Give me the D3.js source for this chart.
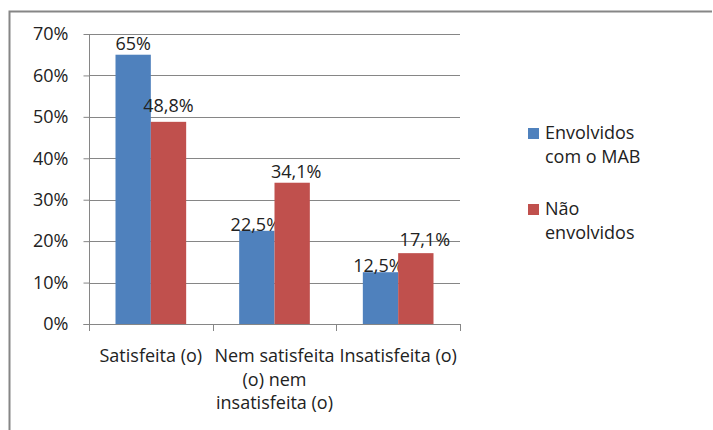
<!DOCTYPE html>
<html><head><meta charset="utf-8">
<script src="https://cdn.jsdelivr.net/npm/d3@7"></script>
<style>body{margin:0;background:#fff}svg{display:block}text{font-family:"Open Sans",sans-serif;fill:#222}</style>
</head><body><svg id="c" width="713" height="430"></svg>
<script>
const categories = [["Satisfeita (o)"], ["Nem satisfeita", "(o) nem", "insatisfeita (o)"], ["Insatisfeita (o)"]];
const seriesNames = [["Envolvidos", "com o MAB"], ["Não", "envolvidos"]];
const envolvidos = [65, 22.5, 12.5];
const naoEnvolvidos = [48.8, 34.1, 17.1];
const valueLabels = [["65%", "22,5%", "12,5%"], ["48,8%", "34,1%", "17,1%"]];
const yTicks = [0, 10, 20, 30, 40, 50, 60, 70];
const colors = ["#4F81BD", "#C0504D"];
// layout tweaks for label placement (mimic original)
const labelDy = [[-5, 0, 0], [-10, -5, -7]];
const labelDx = [[0, -1, -2], [0, 4, 9]];

const svg = d3.select("#c");
const fs = 18;
svg.append("path").attr("d", "M9.5,431 V11.5 H712").attr("fill", "none").attr("stroke", "#868686").attr("stroke-width", 2);

const x0 = 89, x1 = 460, yTop = 34, yBot = 324;
const catW = (x1 - x0) / categories.length;
const barW = catW / 3.5;
const y = d3.scaleLinear().domain([0, 70]).range([yBot, yTop]);
const xb = d3.scaleBand().domain(d3.range(categories.length)).range([x0, x1]);

svg.append("g").selectAll("line").data(yTicks.slice(1)).join("line")
  .attr("x1", x0).attr("x2", x1).attr("y1", d => Math.round(y(d)) + 0.5).attr("y2", d => Math.round(y(d)) + 0.5)
  .attr("stroke", "#868686").attr("stroke-width", 1);

const yAxis = d3.axisLeft(y).tickValues(yTicks).tickSize(6).tickPadding(15).tickFormat(d => d + "%");
const gy = svg.append("g").attr("transform", `translate(${x0 + 0.5},0)`).call(yAxis);
gy.select(".domain").attr("stroke", "#868686").attr("d", `M-6,${yBot + 0.5}H0V${yTop}`);
gy.selectAll(".tick line").attr("stroke", "#868686");
gy.selectAll(".tick text").style("font-size", fs + "px").attr("fill", "#222").style("font-family", "Open Sans");

const cx = i => xb(i) + xb.bandwidth() / 2;
const series = [envolvidos, naoEnvolvidos];
series.forEach((vals, s) => {
  svg.append("g").selectAll("rect").data(vals).join("rect")
    .attr("x", (d, i) => cx(i) - barW + s * barW)
    .attr("width", barW)
    .attr("y", d => y(d)).attr("height", d => yBot - y(d))
    .attr("fill", colors[s]);
  svg.append("g").selectAll("text").data(vals).join("text")
    .attr("x", (d, i) => cx(i) - barW / 2 + s * barW + labelDx[s][i])
    .attr("y", (d, i) => y(d) + labelDy[s][i])
    .attr("text-anchor", "middle").style("font-size", fs + "px")
    .text((d, i) => valueLabels[s][i]);
});

svg.append("line").attr("x1", x0).attr("x2", x1).attr("y1", yBot + 0.5).attr("y2", yBot + 0.5).attr("stroke", "#868686");
svg.append("g").selectAll("line").data(d3.range(categories.length + 1)).join("line")
  .attr("x1", i => Math.round(x0 + catW * i) + 0.5).attr("x2", i => Math.round(x0 + catW * i) + 0.5)
  .attr("y1", yBot).attr("y2", yBot + 7).attr("stroke", "#868686");
const cl = svg.append("g").selectAll("text").data(categories).join("text")
  .attr("text-anchor", "middle").style("font-size", fs + "px")
  .attr("x", (d, i) => cx(i)).attr("y", 362);
cl.selectAll("tspan").data(d => d).join("tspan")
  .attr("x", function() { return this.parentNode.getAttribute("x"); })
  .attr("dy", (d, j) => j === 0 ? 0 : 23.5).text(d => d);

const lg = svg.append("g");
seriesNames.forEach((nm, s) => {
  const by = 128 + s * 76;
  lg.append("rect").attr("x", 528).attr("y", by).attr("width", 11).attr("height", 11).attr("fill", colors[s]);
  const t = lg.append("text").attr("x", 545).attr("y", by + 11).style("font-size", fs + "px");
  nm.forEach((ln, j) => t.append("tspan").attr("x", 545).attr("dy", j === 0 ? 0 : 23.5).text(ln));
});
</script></body></html>
